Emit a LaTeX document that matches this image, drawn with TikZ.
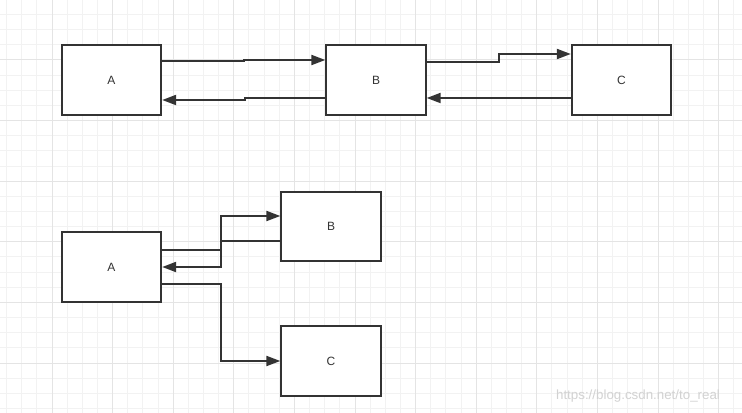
\documentclass[tikz,border=0pt]{standalone}
\usepackage{fontspec}
\setmainfont{Liberation Sans}
\usepackage{xcolor}
\usetikzlibrary{arrows.meta}

\definecolor{inkgray}{RGB}{51,51,51}
\definecolor{gridminor}{RGB}{242,242,242}
\definecolor{gridmajor}{RGB}{228,228,228}
\definecolor{markgray}{RGB}{210,210,210}

\tikzset{
  box/.style={draw=inkgray, line width=1.5pt, fill=white, minimum width=74.5pt, minimum height=52pt, inner sep=0pt, font=\fontsize{9}{11}\selectfont, text=inkgray},
  link/.style={draw=inkgray, line width=1.5pt, -{Triangle[length=10.5pt,width=7.5pt]}},
}

\begin{document}
\begin{tikzpicture}[x=0.75pt,y=0.75pt,yscale=-1,xscale=1]
        \useasboundingbox (0,0) rectangle (742,413);
        \fill[white] (0,0) rectangle (742,413);

        % grid
        \foreach \i in {0,...,48} {
          \draw[gridminor, line width=0.75pt] ({6.55+15.15*\i},0) -- ({6.55+15.15*\i},413);
        }
        \foreach \i in {0,...,26} {
          \draw[gridminor, line width=0.75pt] (0,{14.55+15.15*\i}) -- (742,{14.55+15.15*\i});
        }
        \foreach \i in {0,...,11} {
          \draw[gridmajor, line width=0.75pt] ({52+60.6*\i},0) -- ({52+60.6*\i},413);
        }
        \foreach \i in {0,...,5} {
          \draw[gridmajor, line width=0.75pt] (0,{60+60.6*\i}) -- (742,{60+60.6*\i});
        }

        %Shape: Rectangle [top row]
        \node (A1) at (111.5,80) [box] {A};
        \node (B1) at (376,80) [box] {B};
        \node (C1) at (621.5,80) [box] {C};

        %Shape: Rectangle [bottom group]
        \node (A2) at (111.5,267) [box] {A};
        \node (B2) at (331,226.5) [box] {B};
        \node (C2) at (331,361) [box] {C};

        % Connectors, top row
        \draw[link] (A1.east |- 0,61) -- (244,61) -- (244,60) -- (B1.west |- 0,60);
        \draw[link] (B1.west |- 0,98) -- (245,98) -- (245,100) -- (A1.east |- 0,100);
        \draw[link] (B1.east |- 0,62) -- (499,62) -- (499,54) -- (C1.west |- 0,54);
        \draw[link] (C1.west |- 0,98) -- (B1.east |- 0,98);

        % Connectors, bottom group
        \draw[link] (A2.east |- 0,250) -| (221,216) -- (B2.west |- 0,216);
        \draw[link] (B2.west |- 0,241) -| (221,267) -- (A2.east |- 0,267);
        \draw[link] (A2.east |- 0,284) -| (221,361) -- (C2.west);

        % Text Node
        \node (mark) at (638,396) [text=markgray, font=\fontsize{10}{12}\selectfont] {https://blog.csdn.net/to\_real};

\end{tikzpicture}
\end{document}
